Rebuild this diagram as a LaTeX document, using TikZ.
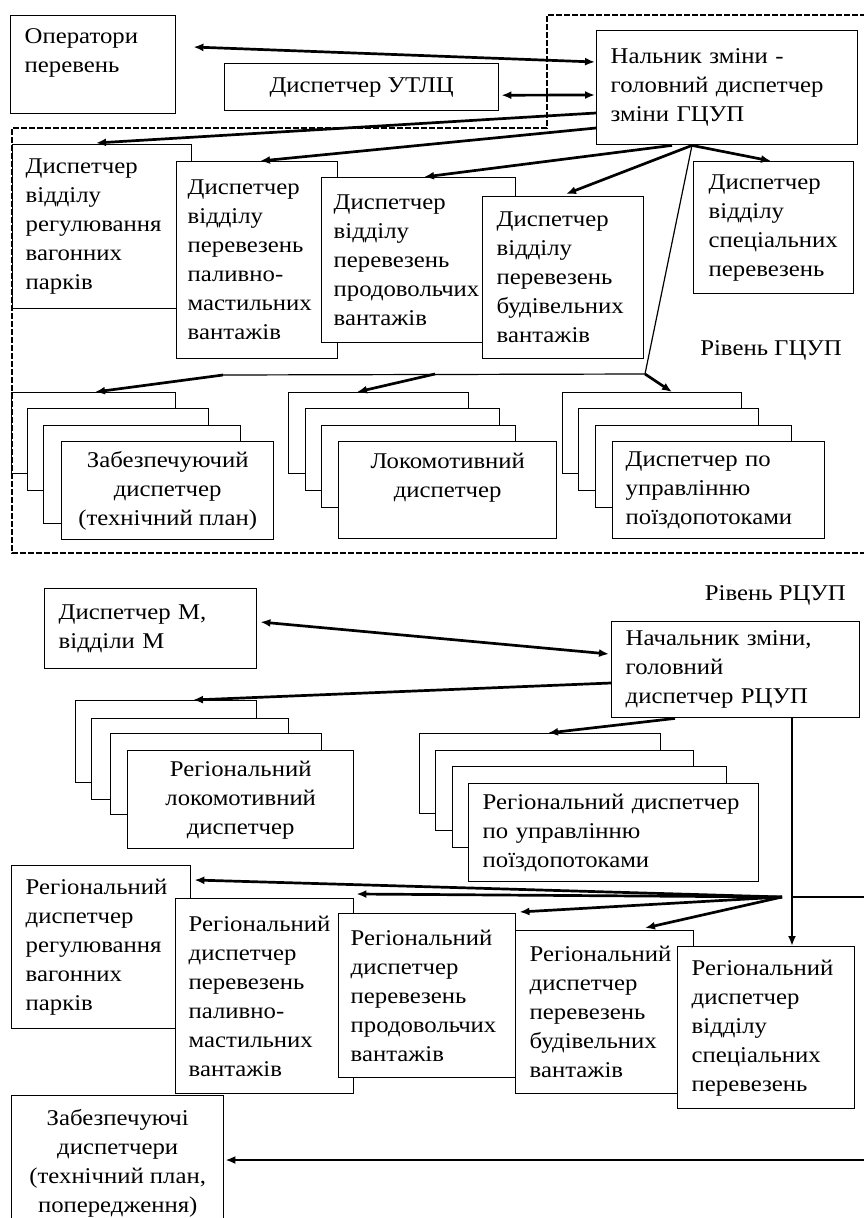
\documentclass[tikz,border=0pt]{standalone}
\usepackage{fontspec}
\setmainfont{Liberation Serif}[FakeStretch=1.1]
\usetikzlibrary{arrows.meta,calc}
\newcommand\dfont{\fontsize{22.5pt}{29pt}\selectfont}
\begin{document}
\begin{tikzpicture}[x=1pt,y=-1pt,
 bx/.style={draw, fill=white, line width=1.4pt, inner sep=0pt, anchor=north west, font=\dfont},
 lt/.style={align=left},
 ct/.style={align=center},
 ar/.style={line width=2.7pt, -{Latex[length=10pt,width=8pt]}},
 dar/.style={line width=2.7pt, {Latex[length=10pt,width=8pt]}-{Latex[length=10pt,width=8pt]}},
 thinl/.style={line width=1.2pt},
 zone/.style={line width=2pt, dash pattern=on 6pt off 2pt},
 lbl/.style={font=\dfont, inner sep=0pt}
]
\useasboundingbox (0,0) rectangle (864,1218);
\clip (0,0) rectangle (864,1218);
\fill[white] (0,0) rectangle (864,1218);

% ---------- GCUP level ----------
\node[bx,lt,minimum width=165pt,minimum height=98pt,text width=137pt] (op) at (10,15) {Оператори\\перевень\\\mbox{}};
\node[bx,ct,minimum width=274pt,minimum height=47pt] (utlc) at (224,63) {Диспетчер УТЛЦ};
\node[bx,lt,minimum width=261pt,minimum height=114pt,text width=233pt] (n1) at (596,30) {Нальник зміни -\\головний диспетчер\\зміни ГЦУП};

\node[bx,lt,minimum width=179pt,minimum height=164pt,text width=153pt] (g1) at (12,144) {Диспетчер\\відділу\\регулювання\\вагонних\\парків};
\node[bx,lt,minimum width=161pt,minimum height=197pt,text width=139pt] (g2) at (176,161) {Диспетчер\\відділу\\перевезень\\паливно-\\мастильних\\вантажів};
\node[bx,lt,minimum width=194pt,minimum height=165pt,text width=170pt] (g3) at (321,177) {Диспетчер\\відділу\\перевезень\\продовольчих\\вантажів};
\node[bx,lt,minimum width=161pt,minimum height=162pt,text width=133pt] (g4) at (482,196) {Диспетчер\\відділу\\перевезень\\будівельних\\вантажів};
\node[bx,lt,minimum width=160pt,minimum height=132pt,text width=130pt] (g5) at (693,161) {Диспетчер\\відділу\\спеціальних\\перевезень};

\node[bx,minimum width=164pt,minimum height=81pt] (s1a) at (11,392) {};
\node[bx,minimum width=181pt,minimum height=82pt] (s1b) at (27,408) {};
\node[bx,minimum width=197pt,minimum height=98pt] (s1c) at (43,425) {};
\node[bx,ct,minimum width=212pt,minimum height=98pt] (s1d) at (61,441) {Забезпечуючий\\диспетчер\\(технічний план)};

\node[bx,minimum width=180pt,minimum height=81pt] (s2a) at (288,392) {};
\node[bx,minimum width=194pt,minimum height=82pt] (s2b) at (305,408) {};
\node[bx,minimum width=194pt,minimum height=82pt] (s2c) at (321,425) {};
\node[bx,ct,minimum width=218pt,minimum height=97pt] (s2d) at (338,441) {Локомотивний\\диспетчер\\\mbox{}};

\node[bx,minimum width=179pt,minimum height=81pt] (s3a) at (562,392) {};
\node[bx,minimum width=180pt,minimum height=82pt] (s3b) at (578,408) {};
\node[bx,minimum width=196pt,minimum height=82pt] (s3c) at (595,425) {};
\node[bx,lt,minimum width=212pt,minimum height=97pt,text width=186pt] (s3d) at (612,441) {Диспетчер по\\управлінню\\поїздопотоками};

\node[lbl,anchor=east] (lg) at (842,350) {Рівень ГЦУП};

\draw[zone] (866,15) -- (547,15) -- (547,128) -- (12,128) -- (12,553) -- (866,553);

\draw[dar] ($(op.north east)+(17,32)$) -- ($(n1.north west)+(-1,32)$);
\draw[dar] ($(utlc.east)+(2,8)$) -- ($(n1.north west)+(-1,65)$);
\draw[ar] ($(n1.north west)+(0,83)$) -- ($(g1.north west)+(84,-1)$);
\draw[ar] ($(n1.north west)+(0,98)$) -- ($(g2.north west)+(84,0)$);
\coordinate (jg) at ($(n1.south west)+(96,0)$);
\draw[ar] ($(n1.south west)+(76,0)$) -- ($(g3.north west)+(103,0)$);
\draw[ar] (jg) -- ($(g4.north west)+(84,-2)$);
\draw[ar] (jg) -- ($(g5.north west)+(78,0)$);
\coordinate (hj) at (645,374);
\coordinate (hl) at (223,375);
\coordinate (hm) at (435,374);
\draw[thinl] (jg) -- (hj) -- (hl);
\draw[ar] (hj) -- ($(s3a.north west)+(110,0)$);
\draw[ar] (hl) -- ($(s1a.north west)+(84,0)$);
\draw[ar] (hm) -- ($(s2a.north west)+(69,0)$);

% ---------- RCUP level ----------
\node[lbl,anchor=east] (lr) at (846,595) {Рівень РЦУП};
\node[bx,lt,minimum width=212pt,minimum height=80pt,text width=184pt] (dm) at (44,588) {Диспетчер М,\\відділи М};
\node[bx,lt,minimum width=248pt,minimum height=96pt,text width=220pt] (n2) at (611,621) {Начальник зміни,\\головний\\диспетчер РЦУП};

\node[bx,minimum width=181pt,minimum height=82pt] (ra) at (75,700) {};
\node[bx,minimum width=197pt,minimum height=81pt] (rb) at (91,718) {};
\node[bx,minimum width=211pt,minimum height=81pt] (rc) at (110,733) {};
\node[bx,ct,minimum width=226pt,minimum height=98pt] (rd) at (127,750) {Регіональний\\локомотивний\\диспетчер};

\node[bx,minimum width=241pt,minimum height=80pt] (pa) at (419,733) {};
\node[bx,minimum width=258pt,minimum height=80pt] (pb) at (435,750) {};
\node[bx,minimum width=274pt,minimum height=81pt] (pc) at (452,766) {};
\node[bx,lt,minimum width=290pt,minimum height=98pt,text width=262pt] (pd) at (468,783) {\mbox{Регіональний диспетчер}\\по управлінню\\поїздопотоками};

\node[bx,lt,minimum width=179pt,minimum height=163pt,text width=151pt] (r1) at (11,865) {Регіональний\\диспетчер\\регулювання\\вагонних\\парків};
\node[bx,lt,minimum width=178pt,minimum height=195pt,text width=152pt] (r2) at (175,898) {Регіональний\\диспетчер\\перевезень\\паливно-\\мастильних\\вантажів};
\node[bx,lt,minimum width=177pt,minimum height=164pt,text width=153pt] (r3) at (338,913) {Регіональний\\диспетчер\\перевезень\\продовольчих\\вантажів};
\node[bx,lt,minimum width=178pt,minimum height=163pt,text width=150pt] (r4) at (515,930) {Регіональний\\диспетчер\\перевезень\\будівельних\\вантажів};
\node[bx,lt,minimum width=177pt,minimum height=162pt,text width=149pt] (r5) at (677,946) {Регіональний\\диспетчер\\відділу\\спеціальних\\перевезень};
\node[bx,ct,minimum width=212pt,minimum height=136pt] (zb) at (11,1095) {Забезпечуючі\\диспетчери\\(технічний план,\\попередження)};

\draw[dar] ($(dm.north east)+(3,34)$) -- ($(n2.north west)+(-2,33)$);
\draw[ar] ($(n2.north west)+(0,62)$) -- ($(ra.north west)+(118,0)$);
\draw[ar] ($(n2.south west)+(64,0)$) -- ($(pa.north west)+(129,0)$);
\coordinate (jv) at ($(n2.south west)+(181,0)$);
\coordinate (jr) at (792,897);
\coordinate (jf) at (782,897);
\coordinate (re) at (866,897);
\draw[thinl] (jv) -- (jr) -- (re);
\draw[ar] (jr) -- ($(r5.north west)+(115,0)$);
\draw[ar] (jf) -- ($(r1.north east)+(3,15)$);
\draw[ar] (jf) -- ($(r2.north east)+(2,-4)$);
\draw[ar] (jf) -- ($(r3.north east)+(3,-1)$);
\draw[ar] (jf) -- ($(r4.north west)+(130,-2)$);
\coordinate (be) at (866,1160);
\draw[ar] (be) -- ($(zb.north east)+(1,65)$);
\end{tikzpicture}
\end{document}
